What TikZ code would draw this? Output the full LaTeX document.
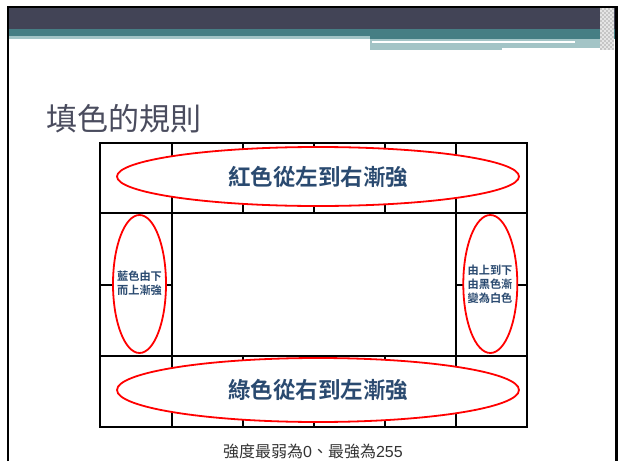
\documentclass[tikz,border=0pt]{standalone}
\usepackage{fontspec}
\newfontfamily\cjk{Noto Sans CJK TC}
\newfontfamily\cjkb{Noto Sans CJK TC Bold}
\newfontfamily\arialf{Liberation Sans}
\definecolor{darkband}{HTML}{424456}
\definecolor{tealband}{HTML}{467E84}
\definecolor{paleteal}{HTML}{A3C4C6}
\definecolor{titlecol}{HTML}{4A4C5E}
\definecolor{navytext}{HTML}{2A4A70}
\begin{document}
\begin{tikzpicture}[x=1pt,y=-1pt,
  gridline/.style={line width=2pt,black},
  redell/.style={line width=1.8pt,red,fill=white},
  bigtxt/.style={font=\cjkb\fontsize{22.5}{26}\selectfont,text=navytext,inner sep=0pt},
  smalltxt/.style={font=\cjkb\fontsize{11.2}{14}\selectfont,text=navytext,inner sep=0pt,align=center}]
\useasboundingbox (0,0) rectangle (619,461);
\fill[white] (0,0) rectangle (619,461);
% header bands
\fill[darkband] (8,7) rectangle (616,29);
\fill[tealband] (8,29) rectangle (616,36);
\fill[tealband] (370,36) rectangle (616,39);
\fill[paleteal] (8,36) rectangle (370,39);
\fill[paleteal] (370,39) rectangle (602,48);
\fill[white] (372,41) rectangle (575,42.8);
\fill[paleteal] (370,48) rectangle (502,50);
% checkered edge
\foreach \i in {0,...,6}{
  \foreach \j in {0,...,20}{
    \pgfmathsetmacro{\g}{mod(\i+\j,2)==0 ? 55 : 80}
    \fill[white!\g!gray] (600+\i*2,8+\j*2) rectangle (602+\i*2,10+\j*2);
  }
}
% slide frame
\draw[line width=2.5pt,black] (8,461) -- (8,7) -- (616.5,7) -- (616.5,461);
% title
\node[anchor=west,inner sep=0pt,text=titlecol,font=\cjk\fontsize{31}{34}\selectfont] (title) at (46,119) {填色的規則};
% grid
\draw[gridline] (100,143) rectangle (527,427);
\draw[gridline] (100,213) -- (527,213);
\draw[gridline] (100,356) -- (527,356);
\draw[gridline] (100,285) -- (172,285);
\draw[gridline] (456,285) -- (527,285);
\draw[gridline] (172,143) -- (172,427);
\draw[gridline] (456,143) -- (456,427);
\foreach \x in {243,314,385}{
  \draw[gridline] (\x,143) -- (\x,213);
  \draw[gridline] (\x,356) -- (\x,427);
}
% ellipses
\draw[redell] (318,176.5) ellipse [x radius=201, y radius=29.5];
\draw[redell] (318,390) ellipse [x radius=201, y radius=32];
\draw[redell] (139.5,284) ellipse [x radius=26.5, y radius=69];
\draw[redell] (490.3,284) ellipse [x radius=27, y radius=69];
% texts
\node[bigtxt] (toptxt) at (318,177) {紅色從左到右漸強};
\node[bigtxt] (bottxt) at (318,390) {綠色從右到左漸強};
\node[smalltxt] (lefttxt) at (139.5,283.5) {藍色由下\\而上漸強};
\node[smalltxt] (righttxt) at (490,284) {由上到下\\由黑色漸\\變為白色};
\node[inner sep=0pt,font=\cjk\fontsize{16}{18}\selectfont,text=black!80] (caption) at (313,451) {強度最弱為{\arialf 0}、最強為{\arialf 255}};
\end{tikzpicture}
\end{document}
